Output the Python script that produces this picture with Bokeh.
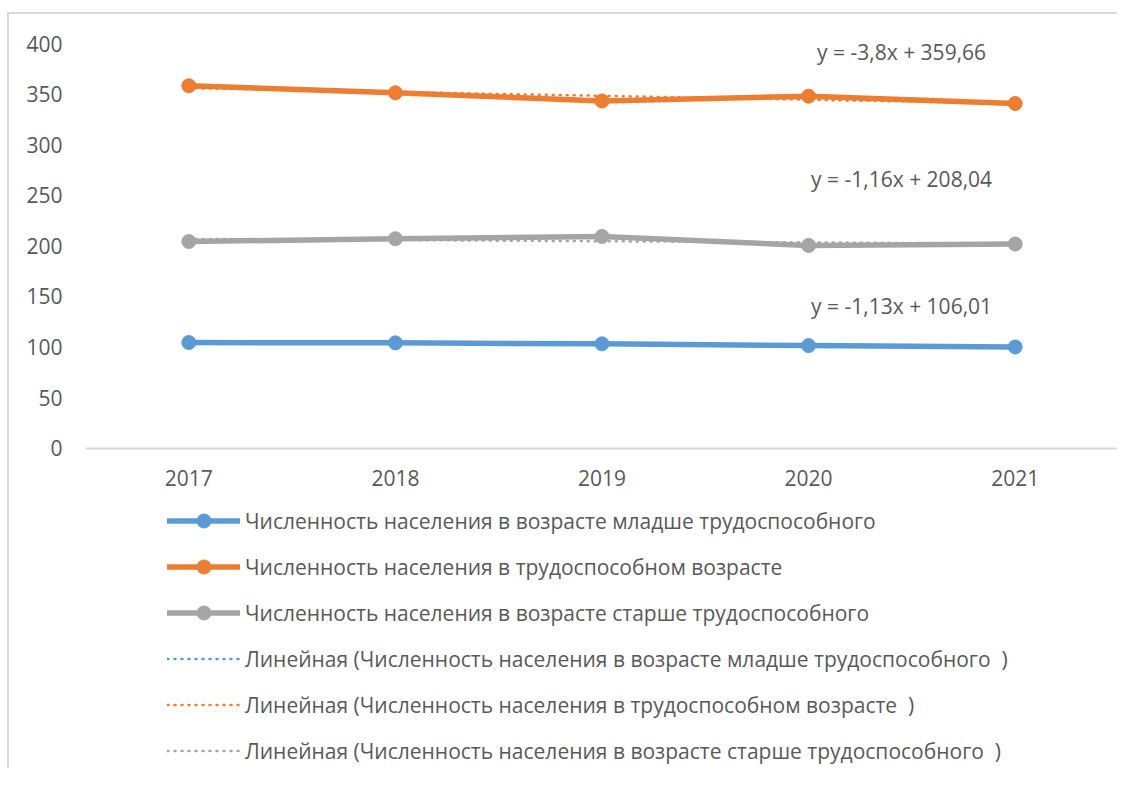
from bokeh.plotting import figure
from bokeh.models import Range1d, FixedTicker, Legend, LegendItem, Label
from bokeh.embed import file_html
from bokeh.resources import INLINE

# ---- data ----
years = ["2017", "2018", "2019", "2020", "2021"]
x_idx = [1, 2, 3, 4, 5]
young = [104.4, 104.1, 103.1, 101.4, 100.1]
working = [358.2, 351.3, 343.2, 347.9, 340.7]
old = [204.3, 207.0, 209.3, 200.4, 201.8]

series_names = [
    "Численность населения в возрасте младше трудоспособного",
    "Численность населения в трудоспособном возрасте",
    "Численность населения в возрасте старше трудоспособного",
]
trend_names = [
    "Линейная (Численность населения в возрасте младше трудоспособного  )",
    "Линейная (Численность населения в трудоспособном возрасте  )",
    "Линейная (Численность населения в возрасте старше трудоспособного  )",
]
trend_slope = [-1.13, -3.8, -1.16]
trend_intercept = [106.01, 359.66, 208.04]
trend_text = ["y = -1,13x + 106,01", "y = -3,8x + 359,66", "y = -1,16x + 208,04"]
y_ticks = [0, 50, 100, 150, 200, 250, 300, 350, 400]

colors = ["#5B9BD5", "#ED7D31", "#A5A5A5"]
text_color = "#595959"
FONT = "Open Sans"
FS = "21px"

# label positions (data coords)
eq_x = [4.45, 4.45, 4.45]
eq_y = [141, 391.4, 266.3]

# frame extends below the value axis so that the legend can sit inside it
Y_BOTTOM = -318.6

p = figure(width=1110, height=756, output_backend="svg", toolbar_location=None,
           x_range=Range1d(0.5, 5.5), y_range=Range1d(Y_BOTTOM, 400),
           min_border_left=76, min_border_right=1, min_border_top=29,
           min_border_bottom=0)
p.margin = (12, 0, 0, 7)
p.styles = {"border-top": "2px solid #D9D9D9", "border-left": "2px solid #D9D9D9"}
p.outline_line_color = None
p.xgrid.grid_line_color = None
p.ygrid.grid_line_color = None
p.background_fill_color = "white"
p.border_fill_color = "white"

# axes
p.yaxis.ticker = FixedTicker(ticks=y_ticks)
p.yaxis.axis_line_color = None
p.yaxis.major_tick_line_color = None
p.yaxis.minor_tick_line_color = None
p.yaxis.major_label_standoff = 17
p.yaxis.major_label_text_font = FONT
p.yaxis.major_label_text_font_size = FS
p.yaxis.major_label_text_color = text_color

p.xaxis.fixed_location = 0
p.xaxis.ticker = FixedTicker(ticks=x_idx)
p.xaxis.major_label_overrides = {i: y for i, y in zip(x_idx, years)}
p.xaxis.axis_line_color = "#D9D9D9"
p.xaxis.axis_line_width = 2
p.xaxis.major_tick_line_color = None
p.xaxis.minor_tick_line_color = None
p.xaxis.major_label_standoff = 16
p.xaxis.major_label_text_font = FONT
p.xaxis.major_label_text_font_size = FS
p.xaxis.major_label_text_color = text_color

data = [young, working, old]

# trend lines (drawn under series)
trend_renderers = []
for k in range(3):
    ty = [trend_slope[k] * x + trend_intercept[k] for x in x_idx]
    r = p.line([x_idx[0], x_idx[-1]], [ty[0], ty[-1]], line_color=colors[k],
               line_width=2.5, line_dash="1 6", line_cap="round")
    trend_renderers.append(r)

series_renderers = []
for k in range(3):
    l = p.line(x_idx, data[k], line_color=colors[k], line_width=5.5,
               line_join="round", line_cap="round")
    s = p.scatter(x_idx, data[k], marker="circle", size=14,
                  fill_color=colors[k], line_color=colors[k])
    series_renderers.append([l, s])

for k in range(3):
    p.add_layout(Label(x=eq_x[k], y=eq_y[k], text=trend_text[k],
                       text_font=FONT, text_font_size=FS, text_color=text_color,
                       text_align="center", text_baseline="middle"))

items = [LegendItem(label=series_names[k], renderers=series_renderers[k]) for k in range(3)]
items += [LegendItem(label=trend_names[k], renderers=[trend_renderers[k]]) for k in range(3)]

legend = Legend(items=items, location=(82, 2), orientation="vertical",
                glyph_width=73, glyph_height=35, label_height=20, spacing=11,
                label_standoff=5, padding=0, margin=0,
                label_text_font=FONT, label_text_font_size=FS,
                label_text_color=text_color, border_line_color=None,
                background_fill_alpha=0)
p.add_layout(legend)

open("out.html", "w").write(file_html(p, INLINE))
